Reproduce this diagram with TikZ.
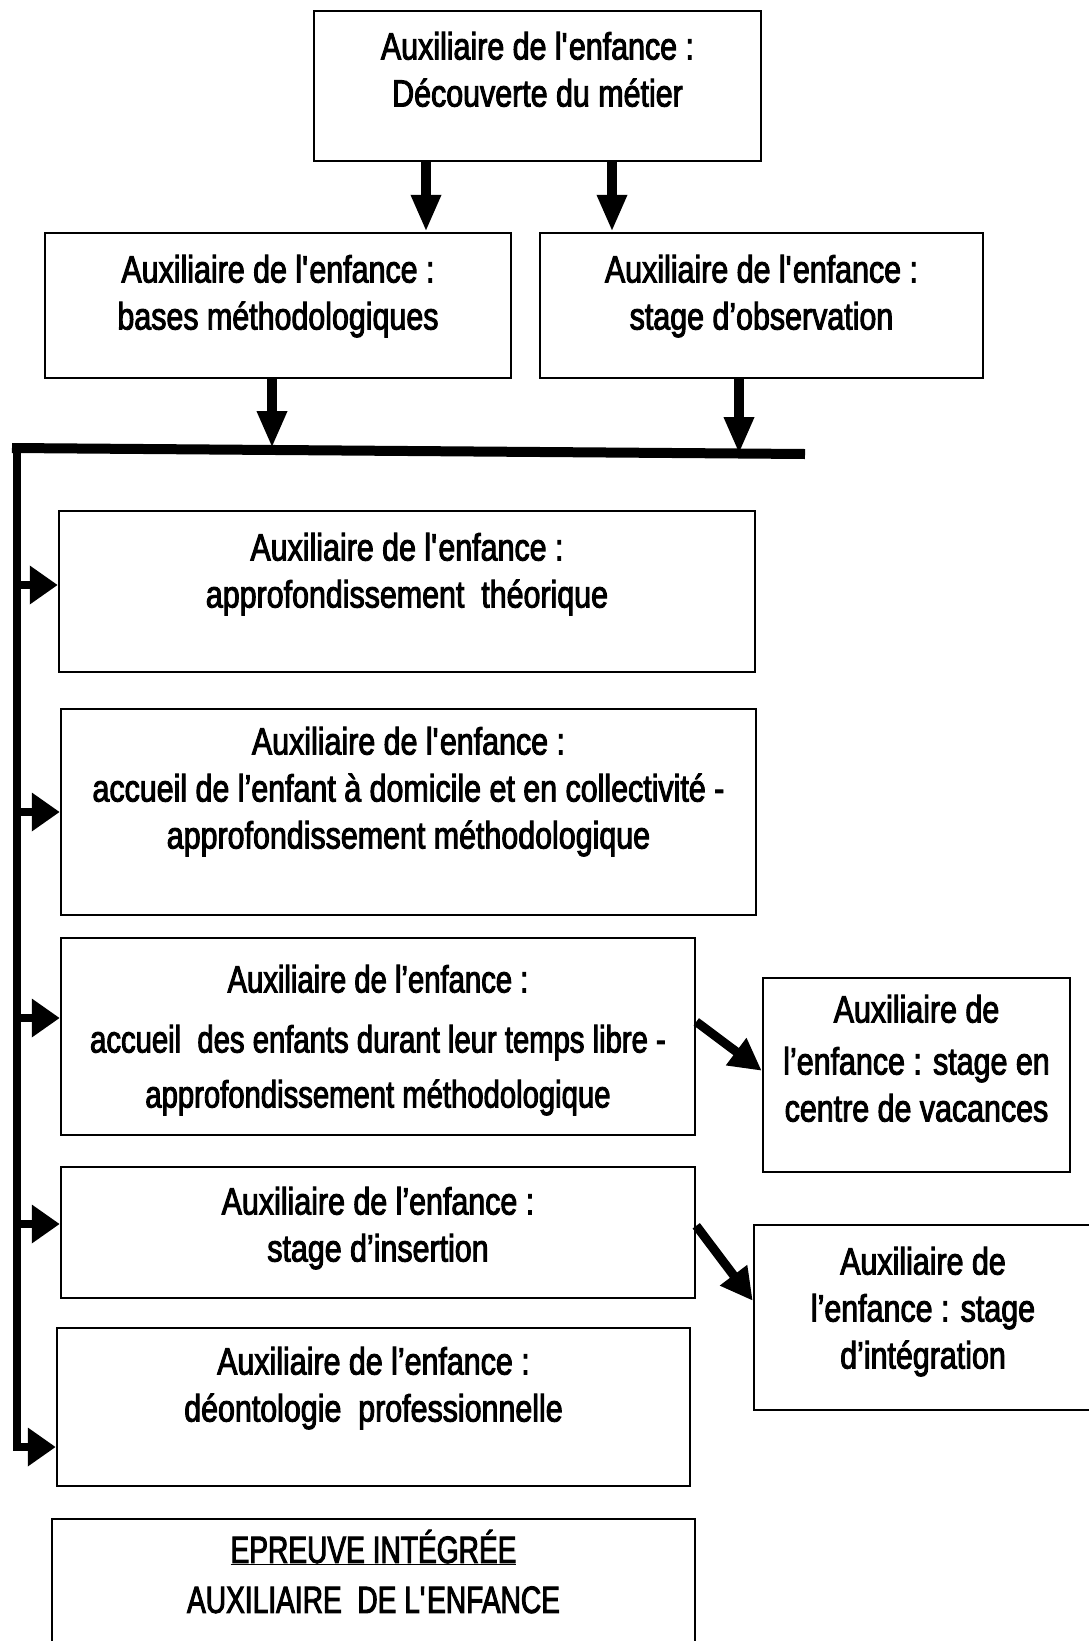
\documentclass[tikz,border=0pt]{standalone}
\usepackage{fontspec}
\setmainfont[FakeStretch=0.8,FakeBold=2.5]{Liberation Sans}
\newfontfamily\fnarrow[FakeStretch=0.77,FakeBold=2.5]{Liberation Sans}
\newfontfamily\knarrow[FakeStretch=0.74,FakeBold=2.5]{Liberation Sans}
\usetikzlibrary{arrows.meta,positioning}
\begin{document}
\begin{tikzpicture}[x=1pt,y=-1pt]
\tikzstyle{bx} = [draw=black,line width=2.5pt,inner sep=0pt] %box
\tikzstyle{tx} = [align=center,inner sep=0pt,font=\fontsize{38}{47}\selectfont] %box text
\tikzstyle{da} = [line width=10pt,-{Triangle[length=37pt,width=28pt]}] %down arrow
\tikzstyle{la} = [line width=8pt,-{Triangle[length=28pt,width=37pt]}] %side arrow
\tikzstyle{sa} = [line width=9pt,-{Triangle[length=32pt,width=32pt]}] %slant arrow
\useasboundingbox (0,0) rectangle (1088,1641);
% boxes
\node[bx,minimum width=447pt,minimum height=150pt](bA)at(537.5,86){};
\node[bx,minimum width=466pt,minimum height=145pt](bB)at(278,305.5){};
\node[bx,minimum width=443pt,minimum height=145pt](bC)at(761.5,305.5){};
\node[bx,minimum width=696pt,minimum height=161pt](bD)at(407,591.5){};
\node[bx,minimum width=695pt,minimum height=206pt](bE)at(408.5,812){};
\node[bx,minimum width=634pt,minimum height=197pt](bF)at(378,1036.5){};
\node[bx,minimum width=307pt,minimum height=194pt](bG)at(916.5,1075){};
\node[bx,minimum width=634pt,minimum height=131pt](bH)at(378,1232.5){};
\node[bx,minimum width=338pt,minimum height=185pt](bI)at(923,1317.5){};
\node[bx,minimum width=633pt,minimum height=158pt](bJ)at(373.5,1407){};
\node[bx,minimum width=643pt,minimum height=146pt](bK)at(373.5,1592){};
% texts
\node[tx,below=22pt of bA.north](tA){Auxiliaire de l\textquotesingle enfance :\\Découverte du métier};
\node[tx,below=23pt of bB.north](tB){Auxiliaire de l\textquotesingle enfance :\\bases méthodologiques};
\node[tx,below=23pt of bC.north](tC){Auxiliaire de l\textquotesingle enfance :\\stage d’observation};
\node[tx,below=23pt of bD.north](tD){Auxiliaire de l\textquotesingle enfance :\\approfondissement\ \ théorique};
\node[tx,below=19pt of bE.north](tE){Auxiliaire de l\textquotesingle enfance :\\accueil de l’enfant à domicile et en collectivité -\\approfondissement méthodologique};
\node[tx,below=28pt of bF.north](tF){\fnarrow Auxiliaire de l’enfance :\\[13pt]\fnarrow accueil\ \ des enfants durant leur temps libre -\\[8pt]\fnarrow approfondissement méthodologique};
\node[tx,below=18pt of bG.north](tG){Auxiliaire de\\[5pt]l’enfance : stage en\\centre de vacances};
\node[tx,below=21pt of bH.north](tH){Auxiliaire de l’enfance :\\stage d’insertion};
\node[tx,below=23pt of bI.north](tI){Auxiliaire de\\l’enfance : stage\\d’intégration};
\node[tx,below=20pt of bJ.north](tJ){Auxiliaire de l’enfance :\\déontologie\ \ professionnelle};
\node[tx,below=12pt of bK.north](tK){\knarrow\underline{EPREUVE INTÉGRÉE}\\[3pt]\knarrow AUXILIAIRE\ \ DE L\textquotesingle ENFANCE};
% bar and spine
\coordinate(barL)at(12,448);
\coordinate(barR)at(805,454);
\coordinate(top)at(17,448);
\coordinate(bot)at(17,1447);
\draw[line width=10pt](barL)--(barR);
\draw[la,line join=miter](top)--(bot)--(bot-|bJ.west);
\coordinate(sD)at(17,585);
\coordinate(sE)at(17,812);
\coordinate(sF)at(17,1018);
\coordinate(sH)at(17,1224);
\draw[la](sD)--(sD-|bD.west);
\draw[la](sE)--(sE-|bE.west);
\draw[la](sF)--(sF-|bF.west);
\draw[la](sH)--(sH-|bH.west);
% arrows
\draw[da]([xshift=-111.5pt]bA.south)--([xshift=-111.5pt]bA.south|-bB.north);
\draw[da]([xshift=74.5pt]bA.south)--([xshift=74.5pt]bA.south|-bC.north);
\draw[da]([xshift=-6pt]bB.south)--([xshift=-6pt]bB.south|-barL);
\draw[da]([xshift=-22.5pt]bC.south)--([xshift=-22.5pt]bC.south|-barR);
\draw[sa]([yshift=-85pt]bF.north east)--([yshift=-94pt]bG.north west);
\draw[sa]([yshift=-60pt]bH.north east)--([yshift=-77pt]bI.north west);
\end{tikzpicture}
\end{document}
